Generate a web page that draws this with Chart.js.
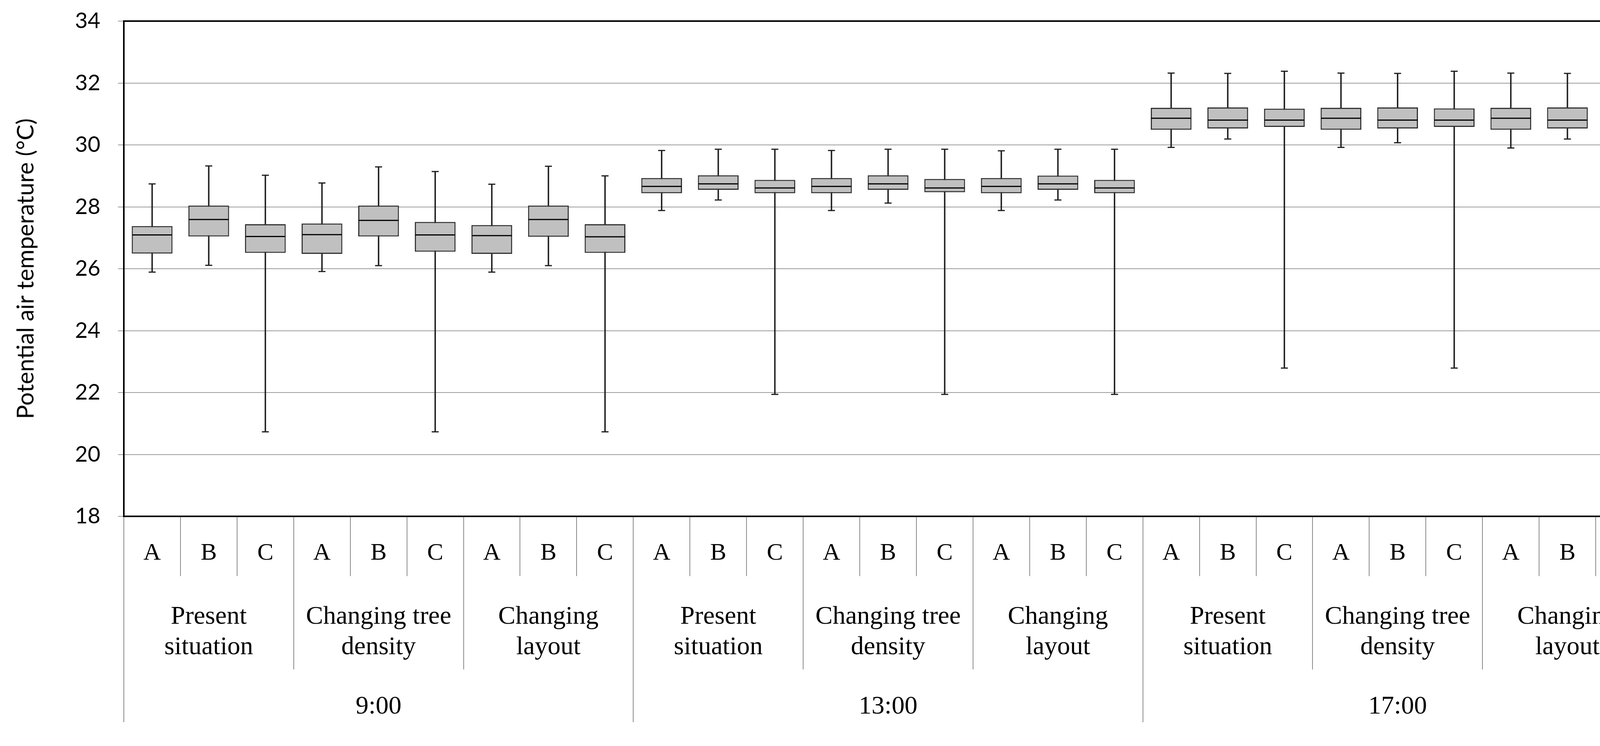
<!DOCTYPE html>
<html>
<head>
<meta charset="utf-8">
<script src="https://cdn.jsdelivr.net/npm/chart.js@4/dist/chart.umd.min.js"></script>
<style>
  body { margin: 0; background: #fff; }
  #wrap { width: 4284px; height: 1910px; }
</style>
</head>
<body>
<div id="wrap"><canvas id="boxChart"></canvas></div>
<script>
// categories
const letters = ['A', 'B', 'C'];
const scenarios = [['Present', 'situation'], ['Changing tree', 'density'], ['Changing', 'layout']];
const times = ['9:00', '13:00', '17:00'];

// box plot values (27 boxes)
const whiskerMax = [28.74, 29.32, 29.02, 28.77, 29.29, 29.14, 28.73, 29.31, 29.00,
                    29.82, 29.86, 29.86, 29.82, 29.86, 29.86, 29.81, 29.86, 29.86,
                    32.32, 32.31, 32.38, 32.32, 32.31, 32.38, 32.32, 32.31, 32.38];
const q3 =         [27.38, 28.04, 27.44, 27.46, 28.04, 27.51, 27.41, 28.04, 27.44,
                    28.93, 29.02, 28.87, 28.93, 29.02, 28.90, 28.93, 29.01, 28.87,
                    31.20, 31.21, 31.17, 31.20, 31.21, 31.18, 31.20, 31.21, 31.15];
const median =     [27.09, 27.59, 27.04, 27.10, 27.56, 27.09, 27.07, 27.59, 27.03,
                    28.66, 28.74, 28.61, 28.66, 28.74, 28.61, 28.66, 28.74, 28.61,
                    30.86, 30.80, 30.80, 30.86, 30.80, 30.80, 30.86, 30.80, 30.80];
const q1 =         [26.49, 27.04, 26.51, 26.48, 27.04, 26.55, 26.48, 27.03, 26.51,
                    28.44, 28.55, 28.44, 28.44, 28.55, 28.47, 28.44, 28.55, 28.44,
                    30.49, 30.53, 30.58, 30.49, 30.53, 30.58, 30.49, 30.53, 30.58];
const whiskerMin = [25.89, 26.11, 20.73, 25.91, 26.10, 20.73, 25.89, 26.10, 20.73,
                    27.88, 28.22, 21.94, 27.88, 28.12, 21.94, 27.88, 28.22, 21.94,
                    29.92, 30.19, 22.79, 29.92, 30.07, 22.79, 29.90, 30.19, 22.79];

const yTicks = [18, 20, 22, 24, 26, 28, 30, 32, 34];

// derived labels for the three x levels
const groupLabels = [];
times.forEach(() => scenarios.forEach(s => groupLabels.push(s)));
const boxLabels = [];
groupLabels.forEach(() => letters.forEach(l => boxLabels.push(l)));

const serif = 'Liberation Serif';
const sepColor = '#8a8a8a';

const ctx = document.getElementById('boxChart').getContext('2d');
const chart = new Chart(ctx, {
    type: 'bar',
    data: {
        labels: boxLabels,
        datasets: [
            {
                // whisker stems
                type: 'bar',
                data: whiskerMin.map((v, i) => [v, whiskerMax[i]]),
                backgroundColor: '#1e1e1e',
                borderWidth: 0,
                barThickness: 3,
                grouped: false,
                order: 3
            },
            {
                // boxes q1..q3
                type: 'bar',
                data: q1.map((v, i) => [v, q3[i]]),
                backgroundColor: '#c0c0c0',
                borderColor: '#333333',
                borderWidth: 3,
                borderSkipped: false,
                barPercentage: 0.72,
                categoryPercentage: 1,
                grouped: false,
                order: 2
            },
            {
                type: 'line',
                data: median,
                showLine: false,
                pointStyle: 'line',
                pointRadius: 51,
                pointHoverRadius: 51,
                pointBorderWidth: 3,
                pointBorderColor: '#000',
                order: 0
            },
            {
                type: 'line',
                data: whiskerMax,
                showLine: false,
                pointStyle: 'line',
                pointRadius: 9,
                pointHoverRadius: 9,
                pointBorderWidth: 3,
                pointBorderColor: '#1e1e1e',
                order: 0
            },
            {
                type: 'line',
                data: whiskerMin,
                showLine: false,
                pointStyle: 'line',
                pointRadius: 9,
                pointHoverRadius: 9,
                pointBorderWidth: 3,
                pointBorderColor: '#1e1e1e',
                order: 0
            }
        ]
    },
    options: {
        responsive: true,
        maintainAspectRatio: false,
        animation: false,
        layout: { padding: 0 },
        plugins: {
            legend: { display: false },
            tooltip: { enabled: false }
        },
        scales: {
            y: {
                type: 'linear',
                position: 'left',
                min: 18,
                max: 34,
                afterBuildTicks: scale => { scale.ticks = yTicks.map(v => ({ value: v })); },
                afterFit: scale => {
                    scale.width = 317;
                    scale.paddingTop = 0;
                    scale.paddingBottom = 0;
                },
                grid: { color: '#9c9c9c', lineWidth: 2, tickLength: 15 },
                border: { color: '#000', width: 4 },
                ticks: {
                    color: '#000',
                    padding: 45,
                    font: { family: 'Lato', size: 56 }
                },
                title: {
                    display: true,
                    text: 'Potential air temperature (°C)',
                    color: '#000',
                    padding: { top: 31, bottom: 0 },
                    font: { family: 'Lato', size: 60 }
                }
            },
            yRight: {
                type: 'linear',
                position: 'right',
                min: 18,
                max: 34,
                afterFit: scale => { scale.width = 34; },
                grid: { display: false },
                ticks: { display: false },
                border: { color: '#000', width: 3 }
            },
            xTop: {
                type: 'category',
                position: 'top',
                afterFit: scale => { scale.height = 50; },
                grid: { display: false },
                ticks: { display: false },
                border: { color: '#000', width: 4 }
            },
            x: {
                type: 'category',
                position: 'bottom',
                weight: 0,
                offset: true,
                afterFit: scale => { scale.height = 56; },
                grid: { offset: true, drawOnChartArea: false, tickLength: 153, color: sepColor, lineWidth: 2 },
                border: { color: '#000', width: 4 },
                ticks: {
                    color: '#000',
                    mirror: true,
                    padding: -132,
                    maxRotation: 0,
                    autoSkip: false,
                    font: { family: serif, size: 62, lineHeight: 1.2 }
                }
            },
            x2: {
                type: 'category',
                position: 'bottom',
                weight: 1,
                offset: true,
                labels: groupLabels,
                afterFit: scale => { scale.height = 146; },
                grid: { offset: true, drawOnChartArea: false, tickLength: 336, color: sepColor, lineWidth: 2 },
                border: { display: false },
                ticks: {
                    color: '#000',
                    mirror: true,
                    padding: -241,
                    maxRotation: 0,
                    autoSkip: false,
                    font: { family: serif, size: 66, lineHeight: 1.18 }
                }
            },
            x3: {
                type: 'category',
                position: 'bottom',
                weight: 2,
                offset: true,
                labels: times,
                afterFit: scale => { scale.height = 386; },
                grid: { offset: true, drawOnChartArea: false, tickLength: 325, color: sepColor, lineWidth: 2 },
                border: { display: false },
                ticks: {
                    color: '#000',
                    padding: -79,
                    maxRotation: 0,
                    autoSkip: false,
                    font: { family: serif, size: 66, lineHeight: 1.2 }
                }
            }
        }
    }
});
</script>
</body>
</html>
